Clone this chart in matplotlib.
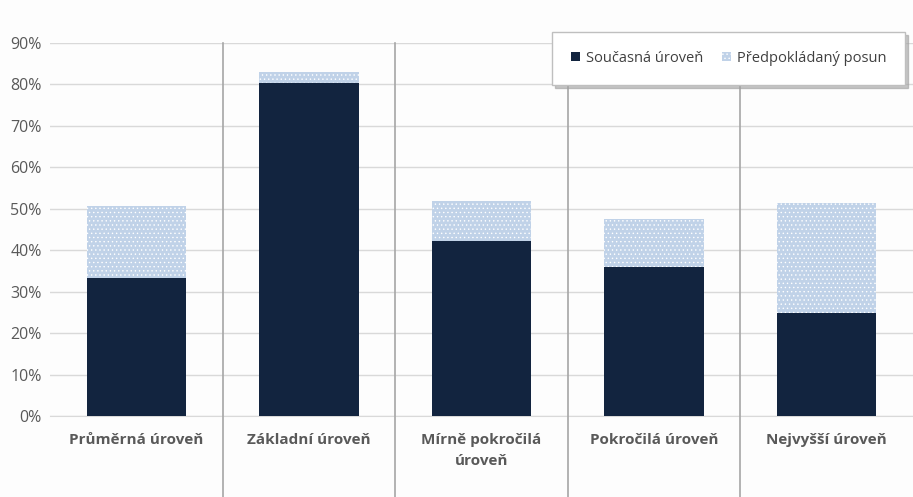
import numpy as np
import matplotlib.pyplot as plt
import matplotlib.transforms as mtransforms
from matplotlib.patches import Patch

# values (fractions)
categories = ["Průměrná úroveň", "Základní úroveň", "Mírně pokročilá\núroveň",
              "Pokročilá úroveň", "Nejvyšší úroveň"]
current = [0.333, 0.804, 0.423, 0.360, 0.249]
shift = [0.174, 0.027, 0.096, 0.116, 0.265]

dark = "#12243f"
light = "#c0d2e8"

plt.rcParams["font.family"] = ["Open Sans", "DejaVu Sans"]
plt.rcParams["hatch.color"] = "white"
plt.rcParams["hatch.linewidth"] = 0.5

fig = plt.figure(figsize=(9.13, 4.97), dpi=100, facecolor="#fdfdfd")
ax = fig.add_axes([50 / 913, 81 / 497, 863 / 913, 373 / 497])
ax.set_facecolor("#fdfdfd")

x = np.arange(len(categories))
ax.bar(x, current, width=0.575, color=dark, zorder=3)
ax.bar(x, shift, bottom=current, width=0.575, color=light, hatch="....",
       edgecolor="white", linewidth=0, zorder=3)

ax.set_xlim(-0.5, len(categories) - 0.5)
ax.set_ylim(0, 0.9)
ax.set_yticks(np.arange(0, 0.91, 0.1))
ax.set_yticklabels([f"{int(round(v * 100))}%" for v in np.arange(0, 0.91, 0.1)],
                   color="#595959", fontsize=11.5)
ax.set_xticks(x)
ax.set_xticklabels(categories, fontweight="bold", color="#595959", fontsize=11,
                   linespacing=1.7)
ax.tick_params(axis="both", length=0)
ax.tick_params(axis="x", pad=12)
ax.tick_params(axis="y", pad=6)
ax.grid(axis="y", color="#d9d9d9", linewidth=1, zorder=0)
for s in ["top", "right", "left"]:
    ax.spines[s].set_visible(False)
ax.spines["bottom"].set_color("#d9d9d9")

# category separators running down through the label area
trans = mtransforms.blended_transform_factory(ax.transData, ax.transAxes)
for xs in x[:-1] + 0.5:
    ax.plot([xs, xs], [-0.22, 1.0], color="#a6a6a6", linewidth=1.2,
            transform=trans, clip_on=False, zorder=4)

handles = [Patch(facecolor=dark, label="Současná úroveň"),
           Patch(facecolor=light, hatch="....", edgecolor="white", linewidth=0,
                 label="Předpokládaný posun")]
leg = ax.legend(handles=handles, ncol=2, loc="upper right",
                bbox_to_anchor=(861 / 863, 1.045), fontsize=10.5, frameon=True,
                shadow={"color": "#a0a0a0", "alpha": 0.6}, fancybox=False,
                handlelength=0.6, handleheight=0.6,
                handletextpad=0.4, columnspacing=1.3, borderpad=1.3,
                borderaxespad=0.4)
leg.get_frame().set_edgecolor("#bfbfbf")
leg.set_zorder(5)
for t in leg.get_texts():
    t.set_color("#404040")

fig.savefig("out.png", dpi=100, facecolor=fig.get_facecolor())
